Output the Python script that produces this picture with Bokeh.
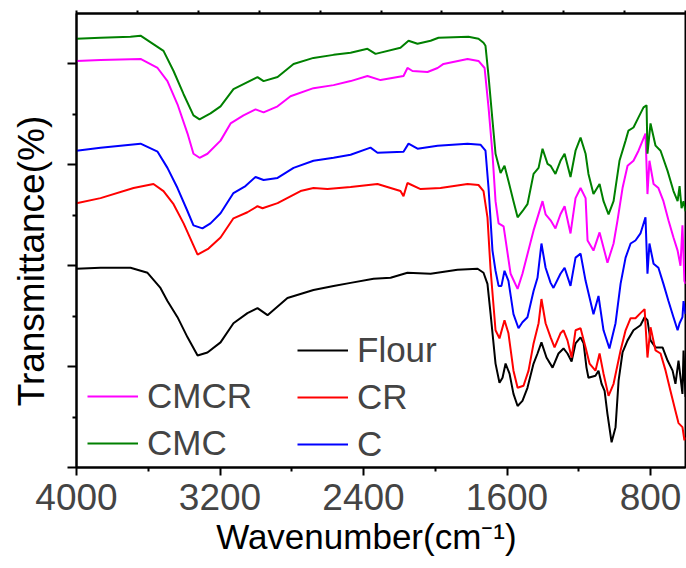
from bokeh.plotting import figure
from bokeh.models import Range1d, LinearAxis, FixedTicker, Legend, LegendItem
from bokeh.embed import file_html
from bokeh.resources import INLINE

# ---------------- data ----------------
flour_wn = [4000, 3866, 3699, 3604, 3532, 3493, 3437, 3381, 3325, 3270, 3197, 3125, 3047, 2991, 2935,
            2824, 2679, 2567, 2472, 2344, 2249, 2155, 2026, 1876, 1764, 1731, 1709, 1692, 1664, 1642,
            1625, 1608, 1586, 1564, 1541, 1514, 1486, 1452, 1430, 1408, 1380, 1346, 1313, 1285, 1263,
            1240, 1218, 1190, 1173, 1157, 1146, 1107, 1090, 1073, 1056, 1040, 1017, 995, 978, 956,
            928, 895, 856, 833, 817, 800, 772, 733, 705, 677, 661, 644, 622, 616, 605]
flour_tr = [1.97, 1.98, 1.98, 1.93, 1.78, 1.65, 1.49, 1.29, 1.11, 1.14, 1.24, 1.43, 1.53, 1.58, 1.51,
            1.68, 1.76, 1.80, 1.83, 1.87, 1.88, 1.93, 1.92, 1.96, 1.97, 1.93, 1.82, 1.53, 1.03, 0.84,
            0.89, 1.03, 0.93, 0.73, 0.61, 0.66, 0.79, 1.03, 1.13, 1.24, 1.09, 0.99, 1.13, 1.18, 1.13,
            1.05, 1.23, 1.29, 1.23, 0.99, 0.89, 0.91, 0.96, 0.83, 0.76, 0.53, 0.25, 0.40, 0.86, 1.14,
            1.26, 1.36, 1.41, 1.49, 1.46, 1.26, 1.19, 1.19, 1.06, 0.96, 0.83, 1.06, 0.73, 1.16, 0.70]

cr_wn = [4000, 3866, 3682, 3571, 3515, 3459, 3403, 3325, 3264, 3197, 3125, 3047, 2991, 2963, 2879,
         2751, 2679, 2601, 2472, 2322, 2194, 2177, 2155, 2082, 1971, 1820, 1759, 1731, 1709, 1692,
         1664, 1642, 1614, 1592, 1564, 1541, 1508, 1480, 1452, 1424, 1408, 1385, 1357, 1335, 1302,
         1285, 1263, 1240, 1218, 1190, 1162, 1140, 1107, 1084, 1062, 1034, 1006, 967, 939, 911,
         884, 856, 833, 817, 800, 772, 744, 716, 689, 661, 644, 622, 611, 605]
cr_tr = [2.62, 2.67, 2.77, 2.81, 2.74, 2.61, 2.42, 2.11, 2.17, 2.28, 2.47, 2.53, 2.59, 2.57, 2.62,
         2.74, 2.77, 2.76, 2.78, 2.81, 2.74, 2.69, 2.82, 2.76, 2.77, 2.81, 2.80, 2.74, 2.48, 1.97,
         1.36, 1.28, 1.46, 1.33, 0.96, 0.79, 0.81, 0.96, 1.23, 1.43, 1.67, 1.43, 1.29, 1.19, 1.33,
         1.36, 1.26, 1.09, 1.36, 1.38, 1.19, 1.03, 0.96, 1.13, 0.93, 0.71, 0.83, 1.16, 1.36, 1.48,
         1.48, 1.53, 1.57, 1.09, 1.39, 1.16, 1.13, 0.96, 0.76, 0.56, 0.44, 0.40, 0.27, 0.30]

c_wn = [4000, 3866, 3643, 3548, 3493, 3437, 3381, 3348, 3298, 3253, 3197, 3125, 3058, 3002, 2957,
        2879, 2790, 2679, 2567, 2472, 2361, 2322, 2177, 2149, 2099, 1987, 1820, 1748, 1720, 1703,
        1681, 1664, 1647, 1631, 1614, 1592, 1564, 1536, 1514, 1486, 1452, 1430, 1408, 1385, 1357,
        1341, 1302, 1279, 1246, 1218, 1190, 1162, 1118, 1090, 1062, 1029, 995, 967, 939, 911,
        884, 856, 828, 817, 806, 783, 756, 728, 700, 672, 649, 638, 622, 616, 605]
c_tr = [3.14, 3.17, 3.21, 3.13, 2.97, 2.77, 2.54, 2.40, 2.37, 2.42, 2.52, 2.72, 2.79, 2.88, 2.85,
        2.87, 2.97, 3.04, 3.07, 3.10, 3.17, 3.12, 3.13, 3.21, 3.16, 3.19, 3.21, 3.20, 3.14, 2.77,
        2.15, 1.95, 1.80, 1.80, 1.95, 1.85, 1.52, 1.38, 1.44, 1.49, 1.75, 1.88, 2.22, 1.98, 1.83,
        1.78, 1.92, 1.98, 1.80, 2.08, 2.12, 1.85, 1.52, 1.70, 1.36, 1.18, 1.43, 1.82, 2.08, 2.22,
        2.25, 2.32, 2.48, 1.92, 2.22, 2.02, 1.98, 1.82, 1.65, 1.49, 1.36, 1.43, 1.49, 1.65, 1.52]

cmcr_wn = [4000, 3866, 3643, 3548, 3493, 3437, 3381, 3348, 3314, 3270, 3197, 3141, 3069, 3002, 2957,
           2879, 2807, 2679, 2567, 2472, 2378, 2305, 2177, 2155, 2127, 2043, 1987, 1954, 1820, 1759,
           1725, 1703, 1681, 1664, 1647, 1619, 1580, 1541, 1514, 1452, 1402, 1385, 1357, 1330, 1302,
           1279, 1246, 1218, 1190, 1162, 1151, 1118, 1084, 1040, 1006, 984, 956, 928, 895, 867,
           828, 817, 806, 783, 756, 728, 700, 672, 649, 633, 622, 611, 605]
cmcr_tr = [4.03, 4.04, 4.05, 3.96, 3.83, 3.60, 3.31, 3.11, 3.07, 3.11, 3.24, 3.41, 3.49, 3.55, 3.52,
           3.58, 3.68, 3.76, 3.79, 3.83, 3.88, 3.84, 3.88, 3.96, 3.93, 3.92, 3.96, 4.00, 4.05, 4.03,
           3.96, 3.57, 3.11, 2.64, 2.42, 2.39, 1.92, 1.77, 1.92, 2.35, 2.64, 2.51, 2.45, 2.37, 2.51,
           2.59, 2.32, 2.67, 2.77, 2.67, 2.25, 2.15, 2.33, 2.03, 2.22, 2.45, 2.77, 2.99, 3.04, 3.14,
           3.31, 2.71, 3.04, 2.81, 2.77, 2.64, 2.45, 2.28, 2.15, 2.00, 2.40, 1.85, 1.82]

cmc_wn = [4000, 3866, 3699, 3643, 3515, 3459, 3403, 3348, 3314, 3253, 3197, 3125, 2991, 2957, 2879,
          2790, 2679, 2567, 2472, 2378, 2333, 2194, 2149, 2099, 2026, 1982, 1815, 1759, 1731, 1720,
          1703, 1681, 1664, 1636, 1614, 1592, 1564, 1541, 1514, 1486, 1452, 1424, 1402, 1374, 1357,
          1330, 1302, 1279, 1246, 1218, 1190, 1162, 1146, 1118, 1084, 1062, 1034, 1006, 973, 939,
          923, 895, 867, 839, 822, 817, 800, 772, 744, 705, 672, 649, 638, 627, 616, 605]
cmc_tr = [4.25, 4.26, 4.27, 4.28, 4.13, 3.93, 3.70, 3.49, 3.45, 3.51, 3.58, 3.75, 3.87, 3.83, 3.87,
          4.00, 4.06, 4.09, 4.11, 4.15, 4.10, 4.16, 4.23, 4.20, 4.23, 4.26, 4.27, 4.25, 4.21, 4.18,
          3.88, 3.44, 3.11, 2.92, 2.99, 2.84, 2.64, 2.48, 2.54, 2.61, 2.91, 2.97, 3.16, 3.01, 2.99,
          2.91, 3.04, 3.11, 2.88, 3.14, 3.27, 3.11, 2.91, 2.71, 2.81, 2.64, 2.51, 2.64, 3.04, 3.24,
          3.34, 3.37, 3.47, 3.57, 3.59, 3.11, 3.41, 3.19, 3.14, 2.94, 2.74, 2.64, 2.79, 2.57, 2.64, 2.54]

series_names = ["Flour", "CR", "C", "CMCR", "CMC"]
series_colors = ["black", "#FF0000", "#0000FF", "#FF00FF", "#008000"]
series_wn = [flour_wn, cr_wn, c_wn, cmcr_wn, cmc_wn]
series_tr = [flour_tr, cr_tr, c_tr, cmcr_tr, cmc_tr]

x_ticks = [4000, 3200, 2400, 1600, 800]
x_minor = [3600, 2800, 2000, 1200]
y_ticks = [0, 1, 2, 3, 4]
y_minor = [0.5, 1.5, 2.5, 3.5]
top_ticks = list(range(11))

x_title = "Wavenumber(cm\u207b\u00b9)"
y_title = "Transmittance(%)"

FONT = "Liberation Sans"
NB = "\u00a0"

p = figure(width=686, height=568, x_range=Range1d(4000, 605), y_range=Range1d(0, 4.5),
           output_backend="svg", toolbar_location=None,
           min_border_left=76, min_border_right=1, min_border_top=13, min_border_bottom=101)
p.grid.visible = False
p.outline_line_color = "black"
p.outline_line_width = 2
p.background_fill_color = "white"
p.border_fill_color = "white"

rend = {}
for name, col, wn, tr in zip(series_names, series_colors, series_wn, series_tr):
    rend[name] = p.line(wn, tr, line_color=col, line_width=2)

xa = p.xaxis[0]
xa.ticker = FixedTicker(ticks=x_ticks, minor_ticks=x_minor)
xa.major_label_text_font = FONT
xa.major_label_text_font_size = "37px"
xa.major_label_standoff = 8
xa.major_tick_out = 8
xa.major_tick_in = 0
xa.minor_tick_out = 4
xa.minor_tick_in = 0
xa.axis_line_width = 2
xa.major_tick_line_width = 2
xa.minor_tick_line_width = 2
xa.axis_label = x_title + NB * 3
xa.axis_label_text_font = FONT
xa.axis_label_text_font_size = "35px"
xa.axis_label_text_font_style = "normal"
xa.axis_label_text_color = "black"
xa.axis_label_standoff = 4

ya = p.yaxis[0]
ya.ticker = FixedTicker(ticks=y_ticks, minor_ticks=y_minor)
ya.major_label_overrides = {t: "" for t in y_ticks}
ya.major_label_standoff = 0
ya.major_tick_out = 9
ya.major_tick_in = 0
ya.minor_tick_out = 4
ya.minor_tick_in = 0
ya.axis_line_width = 2
ya.major_tick_line_width = 2
ya.minor_tick_line_width = 2
ya.axis_label = y_title + NB * 4
ya.axis_label_text_font = FONT
ya.axis_label_text_font_size = "37px"
ya.axis_label_text_font_style = "normal"
ya.axis_label_text_color = "black"
ya.axis_label_standoff = 16

p.extra_x_ranges = {"top": Range1d(0, 10)}
ta = LinearAxis(x_range_name="top", ticker=FixedTicker(ticks=top_ticks, minor_ticks=[]),
                major_tick_out=3, major_tick_in=0, minor_tick_out=0, minor_tick_in=0,
                major_label_overrides={t: "" for t in top_ticks}, major_label_standoff=0,
                major_label_text_font_size="10px",
                axis_line_width=2, major_tick_line_width=2)
p.add_layout(ta, "above")

def make_legend(names, loc):
    leg = Legend(items=[LegendItem(label=n, renderers=[rend[n]]) for n in names], location=loc)
    leg.border_line_alpha = 0
    leg.background_fill_alpha = 0
    leg.padding = 0
    leg.margin = 0
    leg.spacing = 7
    leg.glyph_width = 51
    leg.glyph_height = 40
    leg.label_height = 40
    leg.label_standoff = 9
    leg.label_text_font = FONT
    leg.label_text_font_size = "35px"
    return leg

p.add_layout(make_legend(["CMCR", "CMC"], (11, 4)))
p.add_layout(make_legend(["Flour", "CR", "C"], (221, 3)))

open("out.html", "w").write(file_html(p, INLINE))
